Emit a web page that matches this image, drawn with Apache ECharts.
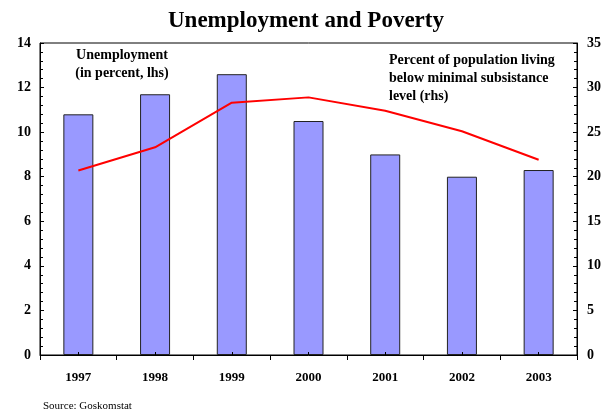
<!DOCTYPE html>
<html>
<head>
<meta charset="utf-8">
<script src="https://cdn.jsdelivr.net/npm/echarts@6/dist/echarts.min.js"></script>
<style>
  html, body { margin: 0; padding: 0; background: #fff; }
  #chart { width: 612px; height: 413px; }
</style>
</head>
<body>
<div id="chart"></div>
<script>
// Annual figures, Russia
const years = ['1997', '1998', '1999', '2000', '2001', '2002', '2003'];
const unemployment = [10.8, 11.7, 12.6, 10.5, 9.0, 8.0, 8.3];      // percent, left axis
const povertyShare = [20.7, 23.3, 28.3, 28.9, 27.4, 25.1, 21.9];    // percent below subsistence, right axis

const serif = '"Liberation Serif", "Times New Roman", serif';

const chart = echarts.init(document.getElementById('chart'), null, { renderer: 'canvas' });

const axisCommon = {
  axisLine: { show: true, lineStyle: { color: '#000', width: 1 } },
  axisTick: { show: true, inside: true, length: 4, lineStyle: { color: '#000' } },
  minorTick: { show: true, splitNumber: 5, length: 3, lineStyle: { color: '#000' } },
  splitLine: { show: false },
  axisLabel: { color: '#000', fontFamily: serif, fontWeight: 'bold', fontSize: 14 }
};

chart.setOption({
  animation: false,
  backgroundColor: '#fff',
  title: {
    text: 'Unemployment and Poverty',
    left: 'center',
    top: 5,
    textStyle: { fontFamily: serif, fontWeight: 'bold', fontSize: 23, color: '#000' }
  },
  grid: {
    left: 40, right: 35, top: 43, bottom: 58,
    show: true, borderColor: '#000', borderWidth: 1, backgroundColor: 'transparent'
  },
  graphic: [
    {
      type: 'text', x: 122, y: 46,
      style: {
        text: 'Unemployment\n(in percent, lhs)',
        textAlign: 'center',
        font: 'bold 14px ' + serif, fill: '#000', lineHeight: 18
      }
    },
    {
      type: 'text', x: 389, y: 51,
      style: {
        text: 'Percent of population living\nbelow minimal subsistance\nlevel (rhs)',
        font: 'bold 14px ' + serif, fill: '#000', lineHeight: 18
      }
    },
    {
      type: 'text', x: 43, y: 401,
      style: { text: 'Source: Goskomstat', font: '11px ' + serif, fill: '#000' }
    }
  ],
  xAxis: [
    {
      type: 'category',
      data: years,
      axisLine: { lineStyle: { color: '#000', width: 1 } },
      axisTick: { show: true, inside: false, length: 5, lineStyle: { color: '#000' } },
      axisLabel: { color: '#000', fontFamily: serif, fontWeight: 'bold', fontSize: 13, margin: 16 }
    },
    {
      // short inner ticks at each year's centre, drawn above the bars
      type: 'category',
      data: years,
      position: 'bottom',
      z: 10,
      axisLine: { show: false },
      axisTick: { show: true, inside: true, alignWithLabel: true, length: 3, lineStyle: { color: '#000' } },
      axisLabel: { show: false }
    }
  ],
  yAxis: [
    Object.assign({}, axisCommon, {
      type: 'value', position: 'left', min: 0, max: 14, interval: 2,
      axisLabel: Object.assign({}, axisCommon.axisLabel, { margin: 9 })
    }),
    Object.assign({}, axisCommon, {
      type: 'value', position: 'right', min: 0, max: 35, interval: 5,
      axisLabel: Object.assign({}, axisCommon.axisLabel, { margin: 10 })
    })
  ],
  series: [
    {
      name: 'Unemployment',
      type: 'bar',
      xAxisIndex: 0,
      yAxisIndex: 0,
      data: unemployment,
      barWidth: 30,
      itemStyle: { color: '#9999FF', borderColor: '#222', borderWidth: 1 }
    },
    {
      name: 'Poverty',
      type: 'line',
      xAxisIndex: 0,
      yAxisIndex: 1,
      data: povertyShare,
      showSymbol: false,
      symbol: 'none',
      lineStyle: { color: '#FF0000', width: 2 },
      z: 5
    }
  ]
});
</script>
</body>
</html>
